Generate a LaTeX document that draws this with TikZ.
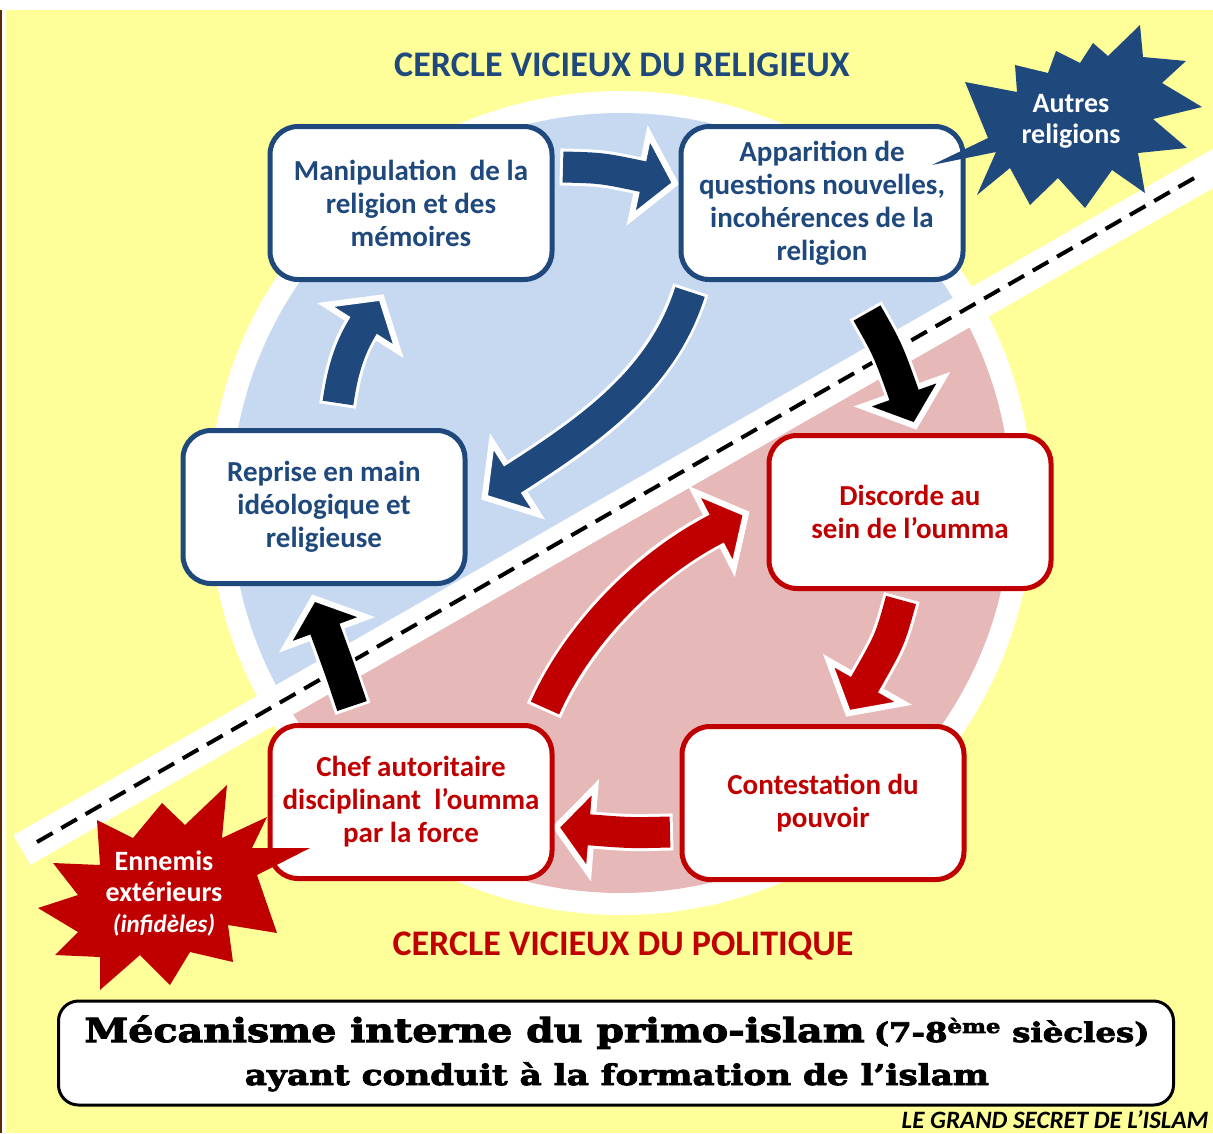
\documentclass[tikz,border=0pt]{standalone}
\usepackage{fontspec}
\setmainfont{Carlito}
\newfontfamily\slab{DejaVu Serif}[FakeBold=3, FakeStretch=1.2]
\usetikzlibrary{calc}
\definecolor{bgyellow}{RGB}{255,255,153}
\definecolor{lblue}{RGB}{198,217,241}
\definecolor{lpink}{RGB}{230,185,184}
\definecolor{dblue}{RGB}{31,73,125}
\definecolor{dred}{RGB}{192,0,0}
\definecolor{brownline}{RGB}{90,45,0}
% #1 colour, #2 path, #3 previous point, #4 base point of the head
\newcommand\barrow[4]{%
  \draw[white, line width=37pt, shorten <=-3pt] #2;
  \filldraw[fill=#1, draw=white, line width=6pt, line join=miter]
    let \p1=(#3), \p2=(#4), \n1={atan2(\y2-\y1,\x2-\x1)} in
    ($(\p2)+(\n1+90:43pt)$) -- ($(\p2)+(\n1:36pt)$) -- ($(\p2)+(\n1-90:43pt)$) -- cycle;
  \draw[#1, line width=31pt, shorten >=-4pt] #2;
}
\begin{document}
\begin{tikzpicture}[x=1pt,y=-1pt,
  box/.style={draw, line width=5pt, rounded corners=28pt, fill=white,
    minimum width=282pt, minimum height=153pt, inner sep=0pt, align=center,
    font=\bfseries\fontsize{29}{33}\selectfont},
  bluebox/.style={box, draw=dblue, text=dblue},
  redbox/.style={box, draw=dred, text=dred},
  cercle/.style={anchor=base, font=\bfseries\fontsize{36}{40}\selectfont},
  startext/.style={text=white, align=center, font=\bfseries\fontsize{28}{31}\selectfont}]
\useasboundingbox (0,0) rectangle (1213,1133);
% background
\fill[white] (0,0) rectangle (1213,1133);
\fill[bgyellow] (6,10) rectangle (1213,1133);
\fill[brownline] (0,10) rectangle (1.5,1133);
% circle
\coordinate (C) at (621,503);
\fill[white] (C) circle (412pt);
\begin{scope}
  \clip (C) circle (390pt);
  \fill[lblue] (0,863) -- (1213,168) -- (1213,0) -- (0,0) -- cycle;
  \fill[lpink] (0,863) -- (1213,168) -- (1213,1133) -- (0,1133) -- cycle;
\end{scope}
% dividing band
\coordinate (band1) at (22,850);
\coordinate (band2) at (1240,153);
\draw[white, line width=34pt] (band1) -- (band2);
\coordinate (dash1) at (37,842);
\coordinate (dash2) at (1196,177);
\draw[black, line width=4pt, dash pattern=on 18pt off 10pt] (dash1) -- (dash2);
% arrow coordinates
\coordinate (aS) at (563,167); \coordinate (aC) at (602,168); \coordinate (aE) at (640,176);
\coordinate (bS) at (690,292); \coordinate (bC1) at (662,380); \coordinate (bC2) at (590,430); \coordinate (bE) at (515,478);
\coordinate (cS) at (338,403); \coordinate (cC1) at (342,375); \coordinate (cC2) at (348,350); \coordinate (cE) at (362,328);
\coordinate (dS) at (867,313); \coordinate (dC) at (888,350); \coordinate (dE) at (903,392);
\coordinate (eS) at (901,600); \coordinate (eC) at (890,640); \coordinate (eE) at (866,682);
\coordinate (fS) at (670,832); \coordinate (fC) at (630,833); \coordinate (fE) at (592,830);
\coordinate (gS) at (545,708); \coordinate (gC1) at (575,640); \coordinate (gC2) at (640,568); \coordinate (gE) at (714,530);
\coordinate (hS) at (352,706); \coordinate (hC) at (340,670); \coordinate (hE) at (326,632);
% arrows
\barrow{dblue}{(aS) .. controls (aC) .. (aE)}{aC}{aE}
\barrow{dblue}{(bS) .. controls (bC1) and (bC2) .. (bE)}{bC2}{bE}
\barrow{dblue}{(cS) .. controls (cC1) and (cC2) .. (cE)}{cC2}{cE}
\barrow{black}{(dS) .. controls (dC) .. (dE)}{dC}{dE}
\barrow{dred}{(eS) .. controls (eC) .. (eE)}{eC}{eE}
\barrow{dred}{(fS) .. controls (fC) .. (fE)}{fC}{fE}
\barrow{dred}{(gS) .. controls (gC1) and (gC2) .. (gE)}{gC2}{gE}
\barrow{black}{(hS) .. controls (hC) .. (hE)}{hC}{hE}
% boxes
\node[bluebox] (manip) at (411,203) {Manipulation\ \ de la\\religion et des\\mémoires};
\node[bluebox] (appar) at (822,203) {Apparition de\\questions nouvelles,\\incohérences de la\\religion};
\node[bluebox] (reprise) at (324,507) {Reprise en main\\idéologique et\\religieuse};
\node[redbox] (discorde) at (910,512) {Discorde au\\sein de l’oumma};
\node[redbox] (contest) at (823,803) {Contestation du\\pouvoir};
\node[redbox] (chef) at (411,802) {Chef autoritaire\\disciplinant\ \ l’oumma\\par la force};
% stars
\fill[dblue] (1140,25) -- (1143,57) -- (1186,61) -- (1162,83) -- (1202,107) -- (1153,119)
  -- (1187,148) -- (1138,153) -- (1145,193) -- (1112,170) -- (1085,208) -- (1058,178)
  -- (1030,205) -- (1010,168) -- (977,195) -- (996,152) -- (932,165) -- (988,138)
  -- (965,82) -- (1017,92) -- (1015,65) -- (1048,73) -- (1056,51) -- (1080,63)
  -- (1093,43) -- (1108,56) -- cycle;
\node[startext] (autres) at (1071,121) {Autres\\religions};
\fill[dred] (227,785) -- (222,838) -- (267,817) -- (252,848) -- (310,848) -- (257,875)
  -- (277,933) -- (228,925) -- (233,962) -- (190,952) -- (170,985) -- (140,955)
  -- (100,990) -- (100,957) -- (55,955) -- (78,932) -- (38,908) -- (78,895)
  -- (53,863) -- (100,865) -- (97,820) -- (133,838) -- (162,803) -- (185,825) -- cycle;
\node[startext] (ennemis) at (164,894) {Ennemis\\extérieurs\\{\itshape\fontsize{25}{31}\selectfont (infidèles)}};
% titles
\node[cercle, text=dblue] (titre1) at (622,76) {CERCLE VICIEUX DU RELIGIEUX};
\node[cercle, text=dred] (titre2) at (623,955) {CERCLE VICIEUX DU POLITIQUE};
% bottom box
\node[draw=black, line width=3pt, rounded corners=20pt, fill=white,
  minimum width=1115pt, minimum height=104pt] (cadre) at (616,1053) {};
\node[anchor=base] (ligne1) at (617,1042) {{\slab\bfseries\fontsize{33}{36}\selectfont Mécanisme interne du primo-islam}\hspace{9pt}{\slab\bfseries\fontsize{27}{36}\selectfont (7-8\textsuperscript{ème} siècles)}};
\node[anchor=base] (ligne2) at (617,1085) {\slab\bfseries\fontsize{28.5}{30}\selectfont ayant conduit à la formation de l’islam};
\node[anchor=base east, inner ysep=1pt, font=\bfseries\itshape\fontsize{25}{25}\selectfont] (footer) at (1212,1128) {LE GRAND SECRET DE L’ISLAM};
\end{tikzpicture}
\end{document}
